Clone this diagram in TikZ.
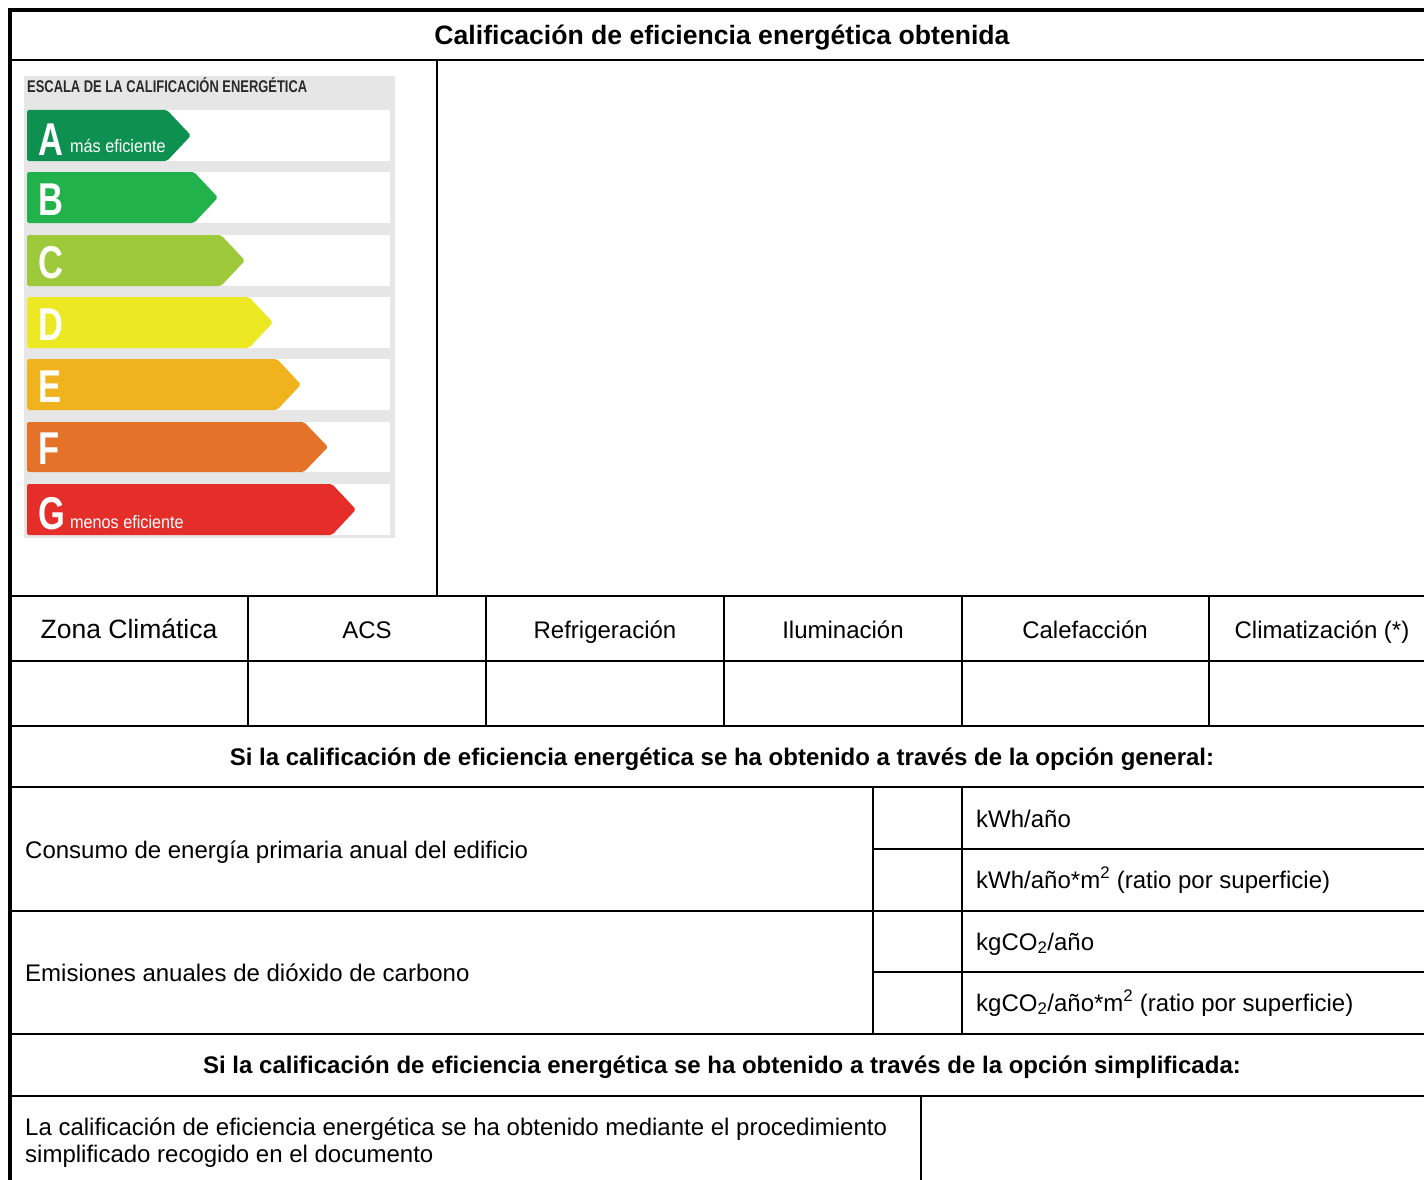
\documentclass[tikz,border=0pt]{standalone}
\usepackage{graphicx}
\usepackage{fontspec}
\setmainfont{Liberation Sans}
\definecolor{clsA}{HTML}{0E9150}
\definecolor{clsB}{HTML}{21B24B}
\definecolor{clsC}{HTML}{9DC93B}
\definecolor{clsD}{HTML}{ECE824}
\definecolor{clsE}{HTML}{F0B21D}
\definecolor{clsF}{HTML}{E47229}
\definecolor{clsG}{HTML}{E52D2A}
\definecolor{scalegray}{HTML}{E6E6E6}
\definecolor{scaletxt}{HTML}{2A2A2A}
\newcommand{\narrowtxt}[2]{\scalebox{#1}[1]{#2}}

\begin{document}
\begin{tikzpicture}[x=1pt,y=-1pt,
  rule/.style={line width=2pt},
  frame/.style={line width=4pt},
  txt/.style={inner sep=0pt, anchor=base, font=\fontsize{24}{27}\selectfont},
  lefttxt/.style={txt, anchor=base west},
  headtxt/.style={inner sep=0pt, anchor=base, font=\fontsize{24}{27}\selectfont\bfseries},
  letter/.style={inner sep=0pt, anchor=base west, text=white, font=\fontsize{46}{46}\selectfont\bfseries},
  note/.style={inner sep=0pt, anchor=base west, text=white, font=\fontsize{18}{18}\selectfont}]
\useasboundingbox (0,0) rectangle (1424,1180);

% energy scale
\fill[scalegray] (24,76) rectangle (395,538);
\node[inner sep=0pt, anchor=base west, text=scaletxt] (scaletitle) at (27,93)
  {\resizebox{280pt}{15pt}{\bfseries ESCALA DE LA CALIFICACIÓN ENERGÉTICA}};
\fill[white] (27,110) rectangle (390,161);
\fill[white] (27,172) rectangle (390,223);
\fill[white] (27,235) rectangle (390,286);
\fill[white] (27,297) rectangle (390,348);
\fill[white] (27,359) rectangle (390,410);
\fill[white] (27,422) rectangle (390,472);
\fill[white] (27,484) rectangle (390,535);
\fill[clsA, rounded corners=2pt] (27,110) -- (167,110) -- (191,135.5) -- (167,161) -- (27,161) -- cycle;
\fill[clsB, rounded corners=2pt] (27,172) -- (194,172) -- (218,197.5) -- (194,223) -- (27,223) -- cycle;
\fill[clsC, rounded corners=2pt] (27,235) -- (221,235) -- (245,260.5) -- (221,286) -- (27,286) -- cycle;
\fill[clsD, rounded corners=2pt] (27,297) -- (249,297) -- (273,322.5) -- (249,348) -- (27,348) -- cycle;
\fill[clsE, rounded corners=2pt] (27,359) -- (277,359) -- (301,384.5) -- (277,410) -- (27,410) -- cycle;
\fill[clsF, rounded corners=2pt] (27,422) -- (304,422) -- (328,447) -- (304,472) -- (27,472) -- cycle;
\fill[clsG, rounded corners=2pt] (27,484) -- (332,484) -- (356,509.5) -- (332,535) -- (27,535) -- cycle;
\node[letter] (lA) at (38,156) {\narrowtxt{0.75}{A}};
\node[note] (mas) at (70,153) {\narrowtxt{0.9}{más eficiente}};
\node[letter] (lB) at (38,215) {\narrowtxt{0.75}{B}};
\node[letter] (lC) at (38,278) {\narrowtxt{0.75}{C}};
\node[letter] (lD) at (38,340) {\narrowtxt{0.75}{D}};
\node[letter] (lE) at (38,402) {\narrowtxt{0.75}{E}};
\node[letter] (lF) at (38,464) {\narrowtxt{0.75}{F}};
\node[letter] (lG) at (38,529) {\narrowtxt{0.75}{G}};
\node[note] (menos) at (70,528) {\narrowtxt{0.9}{menos eficiente}};

% table rules
\draw[frame] (10,1180) -- (10,10) -- (1424,10);
\draw[rule] (10,60) -- (1424,60);
\draw[rule] (437,60) -- (437,596);
\draw[rule] (10,596) -- (1424,596);
\draw[rule] (10,661) -- (1424,661);
\draw[rule] (10,726) -- (1424,726);
\draw[rule] (248,596) -- (248,726);
\draw[rule] (486,596) -- (486,726);
\draw[rule] (724,596) -- (724,726);
\draw[rule] (962,596) -- (962,726);
\draw[rule] (1209,596) -- (1209,726);
\draw[rule] (10,787) -- (1424,787);
\draw[rule] (873,849) -- (1424,849);
\draw[rule] (10,911) -- (1424,911);
\draw[rule] (873,972) -- (1424,972);
\draw[rule] (10,1034) -- (1424,1034);
\draw[rule] (873,787) -- (873,1034);
\draw[rule] (962,787) -- (962,1034);
\draw[rule] (10,1096) -- (1424,1096);
\draw[rule] (921,1096) -- (921,1180);

% texts
\node[headtxt, font=\fontsize{26.6}{27}\selectfont\bfseries] (title) at (722,45) {Calificación de eficiencia energética obtenida};
\node[txt, font=\fontsize{26.5}{27}\selectfont] (zona) at (129,638) {Zona Climática};
\node[txt] (acs) at (367,638) {ACS};
\node[txt] (refr) at (605,638) {Refrigeración};
\node[txt] (ilum) at (843,638) {Iluminación};
\node[txt] (calef) at (1085,638) {Calefacción};
\node[txt] (clim) at (1322,638) {Climatización (*)};
\node[headtxt] (general) at (722,765) {Si la calificación de eficiencia energética se ha obtenido a través de la opción general:};
\node[lefttxt] (consumo) at (25,858) {Consumo de energía primaria anual del edificio};
\node[lefttxt] (kwh) at (976,827) {kWh/año};
\node[lefttxt] (kwhm) at (976,888) {kWh/año*m\textsuperscript{2} (ratio por superficie)};
\node[lefttxt] (emis) at (25,981) {Emisiones anuales de dióxido de carbono};
\node[lefttxt] (kgco) at (976,950) {kgCO\textsubscript{2}/año};
\node[lefttxt] (kgcom) at (976,1011) {kgCO\textsubscript{2}/año*m\textsuperscript{2} (ratio por superficie)};
\node[headtxt] (simpl) at (722,1073) {Si la calificación de eficiencia energética se ha obtenido a través de la opción simplificada:};
\node[lefttxt] (proc1) at (25,1135) {La calificación de eficiencia energética se ha obtenido mediante el procedimiento};
\node[lefttxt] (proc2) at (25,1162) {simplificado recogido en el documento};
\end{tikzpicture}
\end{document}
